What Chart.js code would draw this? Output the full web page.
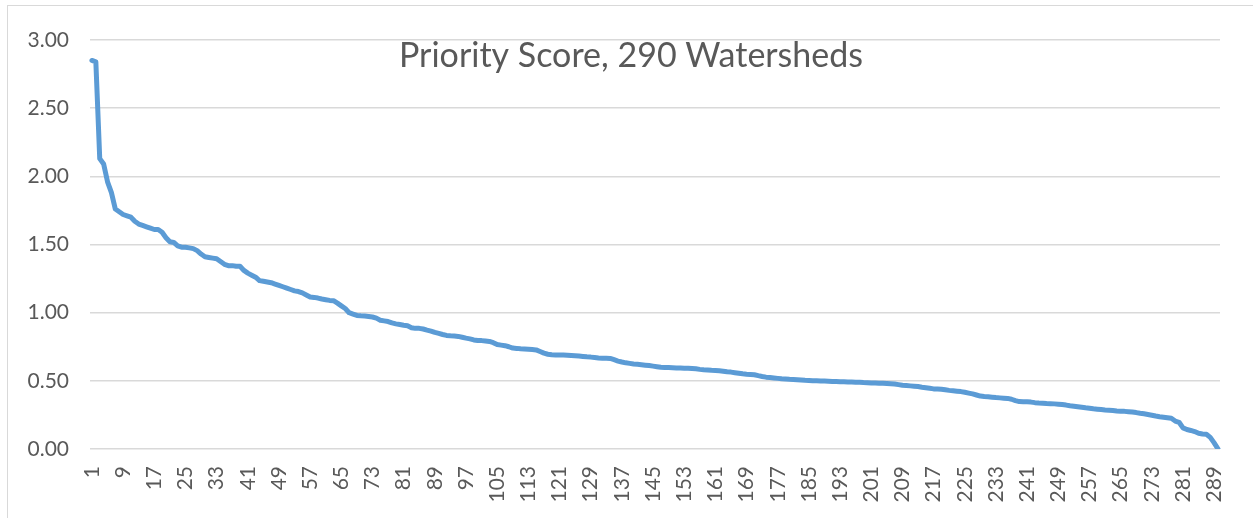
<!DOCTYPE html>
<html>
<head>
<meta charset="utf-8">
<script src="https://cdn.jsdelivr.net/npm/chart.js@4/dist/chart.umd.min.js"></script>
<style>
  html, body { margin: 0; padding: 0; background: #ffffff; overflow: hidden; }
  #wrap { position: relative; width: 1253px; height: 518px; }
  #frame { position: absolute; left: 7px; top: 5px; width: 1300px; height: 600px;
           border-left: 1.5px solid #d9d9d9; border-top: 1.5px solid #d9d9d9; box-sizing: border-box; }
  canvas { position: absolute; left: 0; top: 0; }
</style>
</head>
<body>
<div id="wrap">
  <div id="frame"></div>
  <canvas id="c" width="1253" height="518"></canvas>
</div>
<script>
const chartTitle = "Priority Score, 290 Watersheds";

const watershedRank = Array.from({ length: 290 }, (_, i) => String(i + 1));

const priorityScore = [
  2.85, 2.84, 2.13, 2.09, 1.96, 1.88, 1.76, 1.74, 1.72, 1.71,
  1.70, 1.67, 1.65, 1.64, 1.63, 1.62, 1.61, 1.61, 1.59, 1.55,
  1.52, 1.515, 1.49, 1.48, 1.48, 1.475, 1.47, 1.455, 1.43, 1.41,
  1.405, 1.40, 1.395, 1.375, 1.355, 1.345, 1.345, 1.34, 1.34, 1.31,
  1.29, 1.275, 1.26, 1.235, 1.23, 1.225, 1.22, 1.21, 1.20, 1.19,
  1.18, 1.17, 1.16, 1.155, 1.145, 1.13, 1.115, 1.112, 1.107, 1.10,
  1.095, 1.09, 1.088, 1.07, 1.05, 1.03, 1.00, 0.99, 0.98, 0.977,
  0.975, 0.972, 0.968, 0.96, 0.945, 0.94, 0.935, 0.925, 0.918, 0.913,
  0.908, 0.904, 0.89, 0.885, 0.885, 0.88, 0.872, 0.865, 0.855, 0.848,
  0.84, 0.833, 0.83, 0.828, 0.826, 0.82, 0.813, 0.808, 0.80, 0.796,
  0.795, 0.792, 0.789, 0.78, 0.766, 0.762, 0.758, 0.75, 0.74, 0.738,
  0.735, 0.733, 0.731, 0.729, 0.727, 0.715, 0.703, 0.695, 0.691, 0.69,
  0.69, 0.689, 0.688, 0.686, 0.684, 0.682, 0.679, 0.676, 0.674, 0.671,
  0.668, 0.666, 0.665, 0.664, 0.655, 0.645, 0.638, 0.632, 0.628, 0.624,
  0.621, 0.618, 0.615, 0.612, 0.608, 0.604, 0.60, 0.598, 0.597, 0.596,
  0.595, 0.594, 0.593, 0.592, 0.59, 0.588, 0.584, 0.581, 0.579, 0.577,
  0.576, 0.574, 0.571, 0.567, 0.564, 0.56, 0.556, 0.552, 0.549, 0.547,
  0.545, 0.538, 0.532, 0.527, 0.524, 0.521, 0.518, 0.515, 0.513, 0.511,
  0.51, 0.508, 0.506, 0.504, 0.503, 0.501, 0.50, 0.499, 0.498, 0.497,
  0.496, 0.495, 0.494, 0.493, 0.492, 0.491, 0.49, 0.489, 0.487, 0.486,
  0.485, 0.484, 0.483, 0.482, 0.481, 0.479, 0.477, 0.472, 0.467, 0.465,
  0.463, 0.461, 0.458, 0.453, 0.449, 0.445, 0.441, 0.44, 0.438, 0.434,
  0.43, 0.427, 0.424, 0.421, 0.416, 0.41, 0.404, 0.396, 0.388, 0.385,
  0.383, 0.38, 0.377, 0.375, 0.373, 0.371, 0.365, 0.355, 0.348, 0.347,
  0.346, 0.344, 0.34, 0.337, 0.335, 0.333, 0.332, 0.331, 0.329, 0.326,
  0.322, 0.317, 0.314, 0.31, 0.306, 0.302, 0.299, 0.295, 0.292, 0.289,
  0.286, 0.284, 0.282, 0.279, 0.277, 0.276, 0.274, 0.271, 0.267, 0.262,
  0.258, 0.253, 0.248, 0.242, 0.237, 0.233, 0.229, 0.225, 0.205, 0.196,
  0.155, 0.143, 0.136, 0.128, 0.115, 0.11, 0.108, 0.085, 0.045, 0.0
];

const yTickValues = [0, 0.5, 1, 1.5, 2, 2.5, 3];
const xLabelEvery = 8;

const FONT = "Lato, 'Open Sans', sans-serif";
const TEXT_COLOR = "#595959";

const titlePlugin = {
  id: "innerTitle",
  afterDraw(chart) {
    const ctx = chart.ctx;
    ctx.save();
    ctx.font = "34px " + FONT;
    ctx.fillStyle = TEXT_COLOR;
    ctx.textAlign = "center";
    ctx.textBaseline = "alphabetic";
    ctx.fillText(chartTitle, 631, 67);
    ctx.restore();
  }
};

new Chart(document.getElementById("c"), {
  type: "line",
  data: {
    labels: watershedRank,
    datasets: [{
      data: priorityScore,
      borderColor: "#5b9bd5",
      borderWidth: 5,
      pointRadius: 0,
      pointHoverRadius: 0,
      tension: 0,
      fill: false,
      borderJoinStyle: "round",
      borderCapStyle: "round"
    }]
  },
  options: {
    responsive: false,
    animation: false,
    events: [],
    layout: { padding: { left: 0, right: 33, top: 40, bottom: 0 } },
    plugins: {
      legend: { display: false },
      tooltip: { enabled: false },
      title: { display: false }
    },
    scales: {
      x: {
        type: "category",
        offset: true,
        grid: { display: false, drawTicks: false },
        border: { display: false },
        ticks: {
          autoSkip: false,
          maxRotation: 90,
          minRotation: 90,
          padding: 17,
          color: TEXT_COLOR,
          font: { family: FONT, size: 21 },
          callback: function (value, index) {
            return index % xLabelEvery === 0 ? watershedRank[index] : "";
          }
        },
        afterFit: function (scale) {
          scale.height = 69;
          scale.paddingLeft = 0;
          scale.paddingRight = 0;
        }
      },
      y: {
        min: 0,
        max: 3,
        afterBuildTicks: function (scale) {
          scale.ticks = yTickValues.map(v => ({ value: v }));
        },
        grid: { color: "#d9d9d9", lineWidth: 1.5, drawTicks: false },
        border: { display: false },
        ticks: {
          padding: 21,
          color: TEXT_COLOR,
          font: { family: FONT, size: 21 },
          callback: function (value) { return Number(value).toFixed(2); }
        },
        afterFit: function (scale) {
          scale.width = 90;
          scale.paddingTop = 0;
          scale.paddingBottom = 0;
        }
      }
    }
  },
  plugins: [titlePlugin]
});
</script>
</body>
</html>
